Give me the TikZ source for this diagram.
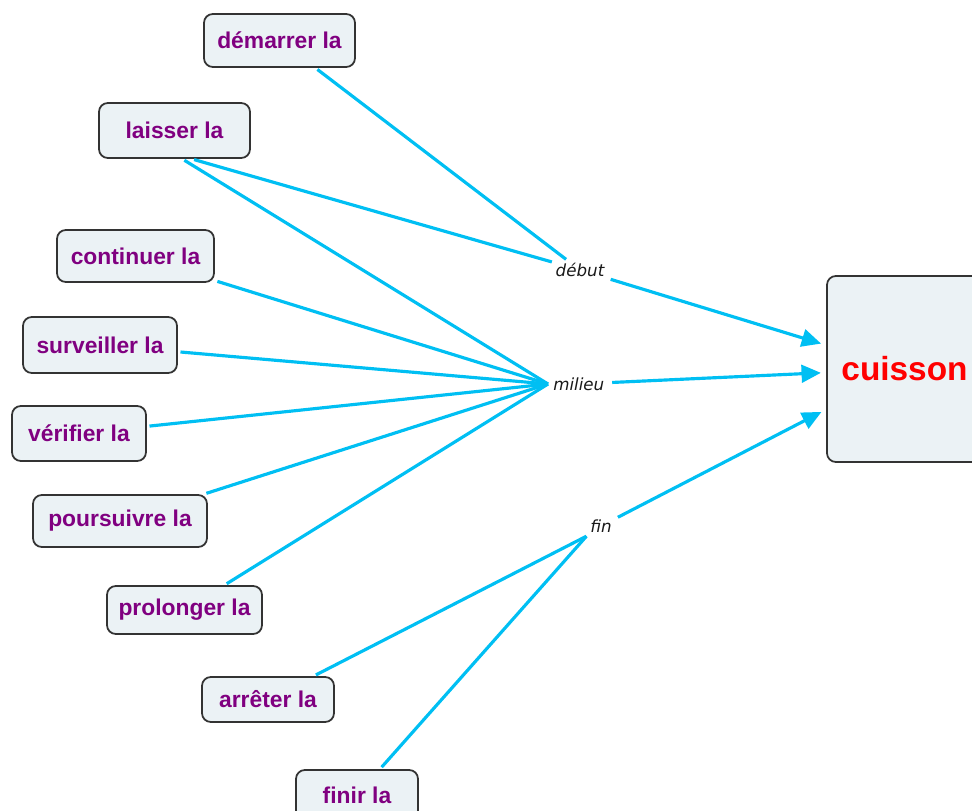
\documentclass[tikz,border=0pt]{standalone}
\usepackage{fontspec}
\setmainfont{Liberation Sans}
\newfontfamily\linkfont{DejaVu Sans}
\usetikzlibrary{arrows.meta}
\definecolor{boxfill}{RGB}{235,242,245}
\definecolor{boxline}{RGB}{51,51,51}
\definecolor{linkblue}{RGB}{0,191,243}
\definecolor{conceptpurple}{RGB}{128,0,128}

\begin{document}
\begin{tikzpicture}[x=0.02cm,y=-0.02cm]
  \clip (0,0) rectangle (972,810);

  \begin{scope}[every node/.style={draw=boxline, line width=1pt, fill=boxfill, rounded corners=5pt, minimum height=1.04cm, inner sep=0pt, text=conceptpurple, font=\fontsize{13}{15}\selectfont\bfseries}]
    \node[minimum width=3.02cm, minimum height=1.06cm] (1) at (279.5,40.5) {démarrer la};
    \node[minimum width=3.02cm, minimum height=1.1cm]  (2) at (174.5,130.5) {laisser la};
    \node[minimum width=3.14cm] (3) at (135.5,256) {continuer la};
    \node[minimum width=3.08cm, minimum height=1.12cm] (4) at (100,345) {surveiller la};
    \node[minimum width=2.68cm, minimum height=1.1cm]  (5) at (79,433.5) {vérifier la};
    \node[minimum width=3.48cm] (6) at (120,521) {poursuivre la};
    \node[minimum width=3.1cm, minimum height=0.96cm]  (7) at (184.5,610) {prolonger la};
    \node[minimum width=2.64cm, minimum height=0.9cm]  (8) at (268,699.5) {arrêter la};
    \node[minimum width=2.44cm, minimum height=1cm]    (9) at (357,795) {finir la};
    \node[minimum width=3.1cm, minimum height=3.72cm, text=red, font=\fontsize{19}{22}\selectfont\bfseries] (10) at (904.5,369) {cuisson};
  \end{scope}

  \begin{scope}[every node/.style={inner sep=2pt, text=black!90, font=\linkfont\itshape\fontsize{9.5}{11}\selectfont}]
    \node (11) at (580,270) {début};
    \node[anchor=west, inner xsep=2.8pt] (12) at (548,384) {milieu};
    \node (13) at (601,526) {fin};
  \end{scope}

  \begin{scope}[every edge/.style={draw=linkblue, line width=1.8pt, shorten <=1.5pt}]
    \path (1)     edge (11);
    \path (2.-59) edge (11);
    \path (2.-75) edge (12.west);
    \path (3)     edge (12.west);
    \path (4)     edge (12.west);
    \path (5)     edge (12.west);
    \path (6)     edge (12.west);
    \path (7)     edge (12.west);
    \path (8)     edge (13.south west);
    \path (9)     edge (13.south west);
    \path (11) edge[-{Triangle[length=11pt,width=10pt]}, shorten >=3pt] (10);
    \path (12) edge[-{Triangle[length=11pt,width=10pt]}, shorten >=3pt] (10);
    \path (13) edge[-{Triangle[length=11pt,width=10pt]}, shorten >=3pt] (10);
  \end{scope}

\end{tikzpicture}
\end{document}
